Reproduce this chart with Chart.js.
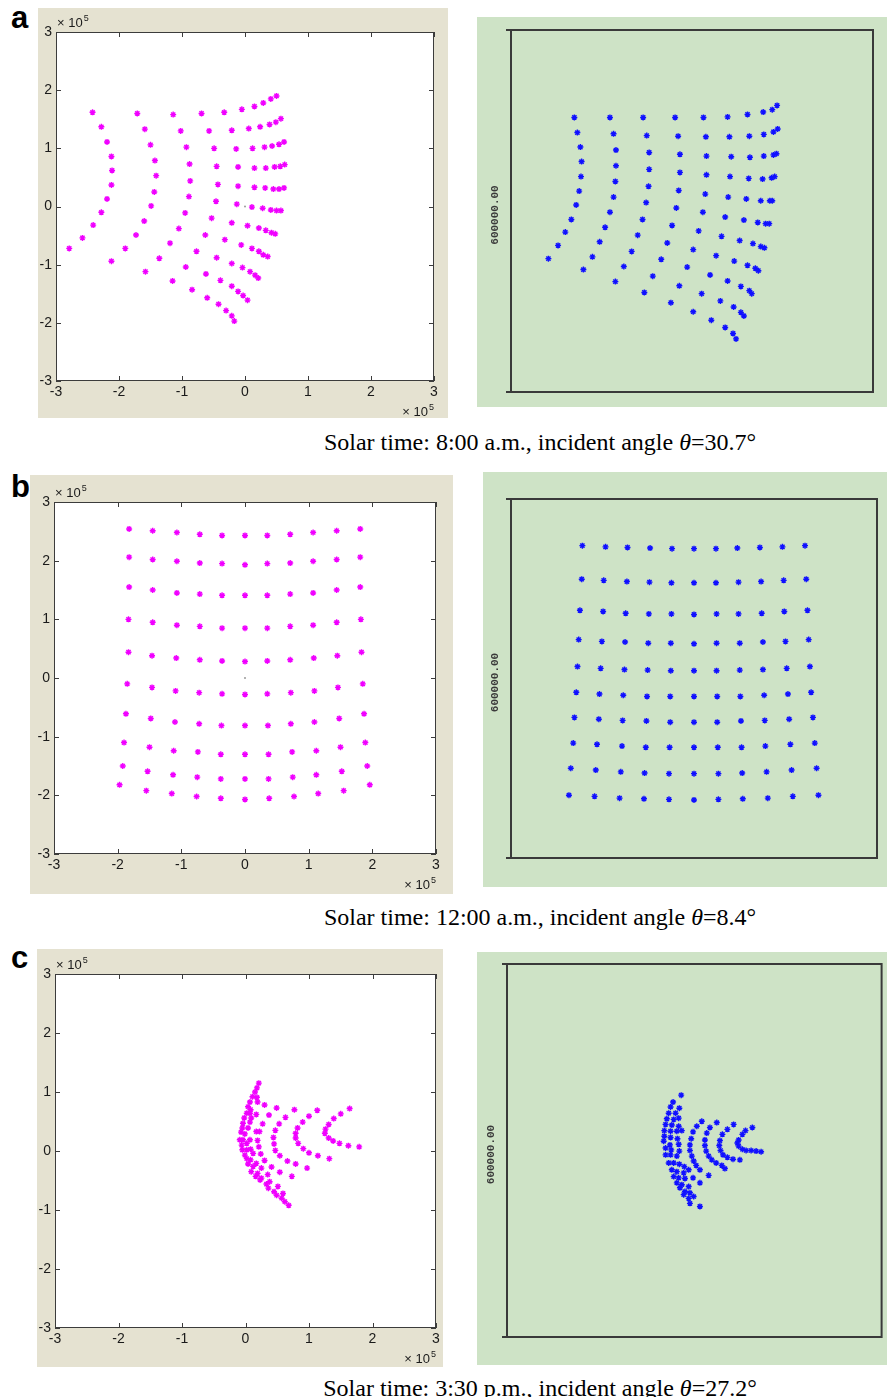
<!DOCTYPE html>
<html>
<head>
<meta charset="utf-8">
<script src="https://cdn.jsdelivr.net/npm/chart.js@4.4.1/dist/chart.umd.min.js"></script>
<style>
  html, body { margin: 0; padding: 0; background: #fff; }
  body { width: 887px; height: 1397px; position: relative; overflow: hidden; }
  canvas { position: absolute; }
  .letter { position: absolute; left: 11px; font: bold 31px "Liberation Sans", Arial, sans-serif; line-height: 1; color: #000; }
  .caption { position: absolute; left: 0; width: 1080px; text-align: center; white-space: nowrap;
             font: 24px "Liberation Serif", "Times New Roman", serif; line-height: 1; color: #000; }
</style>
</head>
<body>
<canvas id="ma"></canvas>
<canvas id="ta"></canvas>
<canvas id="mb"></canvas>
<canvas id="tb"></canvas>
<canvas id="mc"></canvas>
<canvas id="tc"></canvas>
<div id="labels"></div>

<script>
// ---- data (spot positions, units of 1e5) ----
const axisTicks = [-3, -2, -1, 0, 1, 2, 3];
const exponentLabel = '5';
const boxLabel = '600000.00';
const panelLetters = ['a', 'b', 'c'];
const captionTimes = ['8:00 a.m.', '12:00 a.m.', '3:30 p.m.'];
const incidentAngles = ['30.7', '8.4', '27.2'];

// (a) 8:00 a.m. – MATLAB result
const matlabA = [
  [-2.42,1.62],[-1.71,1.60],[-1.14,1.58],[-0.69,1.60],[-0.33,1.62],[-0.05,1.67],[0.15,1.72],[0.29,1.78],[0.41,1.85],[0.50,1.90],
  [-2.28,1.37],[-1.59,1.33],[-1.02,1.30],[-0.57,1.30],[-0.21,1.31],[0.06,1.34],[0.24,1.37],[0.39,1.41],[0.49,1.45],[0.57,1.51],
  [-2.19,1.11],[-1.50,1.06],[-0.93,1.02],[-0.49,1.00],[-0.14,0.99],[0.12,1.00],[0.31,1.02],[0.43,1.04],[0.54,1.07],[0.62,1.11],
  [-2.12,0.86],[-1.43,0.79],[-0.88,0.73],[-0.45,0.69],[-0.11,0.68],[0.15,0.66],[0.33,0.66],[0.47,0.68],[0.56,0.69],[0.63,0.72],
  [-2.11,0.62],[-1.41,0.53],[-0.87,0.44],[-0.43,0.38],[-0.11,0.35],[0.15,0.33],[0.32,0.32],[0.45,0.30],[0.54,0.30],[0.62,0.32],
  [-2.12,0.37],[-1.44,0.25],[-0.89,0.17],[-0.46,0.09],[-0.13,0.04],[0.11,-0.01],[0.28,-0.03],[0.41,-0.06],[0.50,-0.07],[0.57,-0.07],
  [-2.19,0.13],[-1.49,0.01],[-0.95,-0.11],[-0.53,-0.20],[-0.21,-0.28],[0.04,-0.33],[0.22,-0.37],[0.33,-0.41],[0.42,-0.45],[0.48,-0.47],
  [-2.28,-0.10],[-1.60,-0.25],[-1.05,-0.38],[-0.63,-0.49],[-0.32,-0.57],[-0.06,-0.66],[0.11,-0.72],[0.22,-0.77],[0.29,-0.83],[0.36,-0.86],
  [-2.41,-0.32],[-1.73,-0.49],[-1.19,-0.63],[-0.77,-0.77],[-0.45,-0.88],[-0.21,-0.98],[-0.04,-1.05],[0.08,-1.12],[0.16,-1.18],[0.21,-1.23],
  [-2.58,-0.54],[-1.90,-0.72],[-1.36,-0.89],[-0.94,-1.04],[-0.62,-1.16],[-0.39,-1.27],[-0.21,-1.37],[-0.11,-1.46],[-0.03,-1.53],[0.04,-1.61],
  [-2.79,-0.72],[-2.12,-0.94],[-1.58,-1.12],[-1.15,-1.28],[-0.84,-1.43],[-0.60,-1.57],[-0.42,-1.68],[-0.30,-1.79],[-0.21,-1.88],[-0.17,-1.97]
];
// (a) 8:00 a.m. – ray tracer result
const tracerA = [
  [-1.95,1.55],[-1.36,1.55],[-0.81,1.55],[-0.28,1.55],[0.19,1.55],[0.59,1.56],[0.92,1.60],[1.18,1.64],[1.33,1.68],[1.41,1.75],
  [-1.90,1.30],[-1.30,1.28],[-0.75,1.25],[-0.23,1.24],[0.23,1.23],[0.62,1.23],[0.95,1.24],[1.19,1.27],[1.35,1.31],[1.42,1.36],
  [-1.85,1.06],[-1.26,1.01],[-0.71,0.97],[-0.20,0.94],[0.24,0.91],[0.65,0.90],[0.96,0.89],[1.19,0.91],[1.35,0.93],[1.40,0.95],
  [-1.83,0.82],[-1.26,0.75],[-0.71,0.69],[-0.20,0.64],[0.24,0.60],[0.63,0.57],[0.94,0.54],[1.17,0.53],[1.32,0.55],[1.37,0.57],
  [-1.84,0.57],[-1.27,0.49],[-0.72,0.41],[-0.22,0.34],[0.22,0.28],[0.60,0.23],[0.90,0.20],[1.14,0.17],[1.29,0.17],[1.33,0.17],
  [-1.87,0.33],[-1.30,0.23],[-0.76,0.14],[-0.26,0.05],[0.18,-0.02],[0.55,-0.10],[0.86,-0.15],[1.09,-0.19],[1.22,-0.21],[1.28,-0.21],
  [-1.92,0.10],[-1.36,-0.02],[-0.82,-0.14],[-0.33,-0.24],[0.11,-0.33],[0.49,-0.42],[0.79,-0.49],[1.01,-0.54],[1.14,-0.59],[1.20,-0.61],
  [-2.00,-0.14],[-1.44,-0.27],[-0.90,-0.40],[-0.41,-0.53],[0.02,-0.64],[0.40,-0.74],[0.70,-0.83],[0.92,-0.90],[1.05,-0.95],[1.10,-0.99],
  [-2.10,-0.35],[-1.53,-0.51],[-1.00,-0.67],[-0.51,-0.80],[-0.08,-0.93],[0.30,-1.06],[0.59,-1.16],[0.81,-1.25],[0.95,-1.32],[0.99,-1.37],
  [-2.22,-0.57],[-1.65,-0.76],[-1.13,-0.92],[-0.65,-1.08],[-0.21,-1.24],[0.16,-1.37],[0.47,-1.49],[0.69,-1.59],[0.81,-1.68],[0.86,-1.74],
  [-2.38,-0.79],[-1.80,-0.97],[-1.27,-1.17],[-0.79,-1.35],[-0.35,-1.52],[0.02,-1.67],[0.32,-1.81],[0.55,-1.93],[0.68,-2.03],[0.73,-2.12]
];
// (b) 12:00 – MATLAB result
const matlabB = [
  [-1.82,2.54],[-1.45,2.51],[-1.07,2.48],[-0.71,2.45],[-0.36,2.43],[0.00,2.43],[0.35,2.43],[0.71,2.45],[1.07,2.48],[1.44,2.51],[1.81,2.54],
  [-1.82,2.06],[-1.45,2.02],[-1.07,1.99],[-0.71,1.96],[-0.36,1.95],[0.00,1.93],[0.35,1.95],[0.71,1.96],[1.07,1.99],[1.44,2.02],[1.81,2.06],
  [-1.82,1.55],[-1.45,1.50],[-1.07,1.45],[-0.71,1.43],[-0.36,1.41],[0.00,1.41],[0.35,1.41],[0.71,1.43],[1.07,1.45],[1.44,1.50],[1.81,1.55],
  [-1.83,1.00],[-1.45,0.95],[-1.07,0.90],[-0.71,0.88],[-0.36,0.85],[0.00,0.85],[0.35,0.85],[0.71,0.88],[1.07,0.90],[1.44,0.95],[1.82,1.00],
  [-1.83,0.44],[-1.46,0.38],[-1.08,0.34],[-0.71,0.31],[-0.36,0.29],[0.00,0.28],[0.35,0.29],[0.71,0.31],[1.08,0.34],[1.45,0.38],[1.83,0.44],
  [-1.85,-0.10],[-1.46,-0.16],[-1.09,-0.22],[-0.72,-0.25],[-0.36,-0.27],[0.00,-0.28],[0.35,-0.27],[0.72,-0.25],[1.09,-0.22],[1.46,-0.16],[1.85,-0.10],
  [-1.87,-0.61],[-1.48,-0.69],[-1.10,-0.75],[-0.72,-0.78],[-0.37,-0.81],[0.00,-0.81],[0.36,-0.81],[0.72,-0.78],[1.09,-0.75],[1.48,-0.69],[1.87,-0.61],
  [-1.90,-1.10],[-1.50,-1.18],[-1.12,-1.24],[-0.74,-1.26],[-0.38,-1.30],[0.00,-1.30],[0.37,-1.30],[0.74,-1.26],[1.12,-1.24],[1.50,-1.18],[1.89,-1.10],
  [-1.92,-1.50],[-1.53,-1.59],[-1.13,-1.65],[-0.75,-1.69],[-0.38,-1.72],[0.00,-1.72],[0.37,-1.72],[0.75,-1.69],[1.12,-1.65],[1.52,-1.59],[1.92,-1.50],
  [-1.97,-1.82],[-1.55,-1.92],[-1.15,-1.97],[-0.76,-2.02],[-0.38,-2.05],[0.00,-2.07],[0.38,-2.05],[0.77,-2.02],[1.15,-1.97],[1.55,-1.92],[1.96,-1.82]
];
// (b) 12:00 – ray tracer result
const tracerB = [
  [-1.83,2.22],[-1.45,2.20],[-1.09,2.19],[-0.72,2.18],[-0.36,2.17],[0.00,2.17],[0.36,2.17],[0.71,2.18],[1.08,2.19],[1.45,2.20],[1.82,2.22],
  [-1.84,1.66],[-1.48,1.64],[-1.10,1.62],[-0.73,1.61],[-0.37,1.60],[0.00,1.60],[0.36,1.60],[0.73,1.61],[1.10,1.62],[1.47,1.64],[1.84,1.66],
  [-1.87,1.14],[-1.49,1.12],[-1.12,1.09],[-0.74,1.08],[-0.37,1.08],[0.00,1.07],[0.37,1.08],[0.73,1.08],[1.11,1.09],[1.48,1.12],[1.86,1.14],
  [-1.89,0.65],[-1.51,0.62],[-1.13,0.61],[-0.75,0.59],[-0.38,0.59],[0.00,0.58],[0.37,0.59],[0.75,0.59],[1.13,0.61],[1.50,0.62],[1.88,0.65],
  [-1.91,0.20],[-1.53,0.17],[-1.14,0.15],[-0.76,0.14],[-0.38,0.13],[0.00,0.13],[0.37,0.13],[0.75,0.14],[1.13,0.15],[1.52,0.17],[1.90,0.20],
  [-1.93,-0.23],[-1.55,-0.26],[-1.16,-0.28],[-0.77,-0.30],[-0.39,-0.30],[0.00,-0.30],[0.38,-0.30],[0.76,-0.30],[1.15,-0.28],[1.54,-0.26],[1.92,-0.23],
  [-1.96,-0.65],[-1.56,-0.68],[-1.17,-0.70],[-0.78,-0.71],[-0.39,-0.73],[0.00,-0.73],[0.38,-0.73],[0.77,-0.71],[1.16,-0.70],[1.56,-0.68],[1.95,-0.65],
  [-1.98,-1.08],[-1.59,-1.10],[-1.18,-1.13],[-0.79,-1.15],[-0.40,-1.15],[0.00,-1.15],[0.39,-1.15],[0.78,-1.15],[1.17,-1.13],[1.58,-1.10],[1.98,-1.08],
  [-2.02,-1.50],[-1.61,-1.53],[-1.20,-1.56],[-0.81,-1.58],[-0.41,-1.59],[0.00,-1.59],[0.40,-1.59],[0.79,-1.58],[1.19,-1.56],[1.60,-1.53],[2.01,-1.50],
  [-2.05,-1.95],[-1.63,-1.97],[-1.22,-2.00],[-0.82,-2.01],[-0.41,-2.02],[0.00,-2.03],[0.40,-2.02],[0.80,-2.01],[1.21,-2.00],[1.62,-1.97],[2.04,-1.95]
];
// (c) 3:30 p.m. – MATLAB result
const matlabC = [
  [1.64,0.72],[1.50,0.63],[1.39,0.55],[1.31,0.45],[1.26,0.37],[1.25,0.30],[1.31,0.22],[1.38,0.17],[1.48,0.13],[1.62,0.09],[1.79,0.07],
  [1.13,0.69],[1.00,0.59],[0.90,0.49],[0.82,0.39],[0.79,0.30],[0.79,0.22],[0.83,0.13],[0.91,0.04],[1.00,-0.03],[1.14,-0.08],[1.32,-0.13],
  [0.77,0.70],[0.63,0.57],[0.53,0.46],[0.47,0.35],[0.44,0.23],[0.45,0.12],[0.47,0.01],[0.54,-0.08],[0.66,-0.17],[0.79,-0.22],[0.97,-0.29],
  [0.49,0.73],[0.37,0.61],[0.27,0.46],[0.22,0.33],[0.19,0.18],[0.21,0.07],[0.24,-0.05],[0.30,-0.16],[0.41,-0.27],[0.54,-0.36],[0.73,-0.43],
  [0.21,1.15],[0.18,1.07],[0.15,1.00],[0.11,0.92],[0.18,0.91],[0.07,0.83],[0.19,0.83],[0.04,0.75],[0.08,0.70],[0.30,0.78],
  [0.02,0.64],[0.07,0.64],[0.17,0.62],[-0.02,0.56],[0.09,0.56],[-0.04,0.47],[0.07,0.49],[-0.05,0.39],[0.04,0.39],[0.17,0.33],
  [-0.07,0.32],[-0.01,0.29],[-0.09,0.19],[-0.04,0.19],[0.07,0.19],[-0.06,0.10],[0.02,0.13],[-0.05,0.02],[0.02,0.02],[0.08,0.03],
  [-0.01,-0.07],[0.12,-0.04],[0.02,-0.13],[0.08,-0.15],[0.17,-0.21],[0.04,-0.22],[0.12,-0.26],[0.25,-0.29],[0.09,-0.35],[0.19,-0.38],
  [0.35,-0.40],[0.16,-0.43],[0.25,-0.46],[0.38,-0.52],[0.23,-0.49],[0.33,-0.56],[0.51,-0.60],[0.36,-0.63],[0.45,-0.69],[0.59,-0.72],
  [0.49,-0.75],[0.57,-0.80],[0.62,-0.86],[0.68,-0.92]
];
// (c) 3:30 p.m. – ray tracer result
const tracerC = [
  [0.93,0.37],[0.82,0.32],[0.77,0.26],[0.71,0.17],[0.69,0.12],[0.71,0.07],[0.77,0.02],[0.83,0.00],[0.91,0.00],[0.99,-0.01],[1.07,-0.02],
  [0.63,0.42],[0.53,0.34],[0.45,0.26],[0.41,0.16],[0.40,0.08],[0.42,0.00],[0.46,-0.07],[0.53,-0.11],[0.62,-0.14],[0.73,-0.15],
  [0.36,0.45],[0.25,0.37],[0.20,0.28],[0.17,0.17],[0.17,0.08],[0.19,-0.01],[0.23,-0.09],[0.28,-0.15],[0.35,-0.20],[0.44,-0.24],[0.49,-0.29],
  [0.12,0.47],[0.04,0.39],[-0.02,0.30],[-0.05,0.19],[-0.07,0.09],[-0.07,0.00],[-0.04,-0.09],[-0.01,-0.17],[0.03,-0.24],[0.09,-0.31],[0.23,-0.40],
  [-0.21,0.89],[-0.34,0.78],[-0.38,0.70],[-0.24,0.68],[-0.41,0.60],[-0.30,0.60],[-0.44,0.51],[-0.33,0.50],[-0.25,0.52],[-0.46,0.42],
  [-0.36,0.41],[-0.25,0.39],[-0.48,0.32],[-0.38,0.31],[-0.28,0.31],[-0.20,0.32],[-0.48,0.23],[-0.38,0.21],[-0.27,0.19],[-0.49,0.15],
  [-0.39,0.09],[-0.25,0.10],[-0.46,0.04],[-0.37,0.01],[-0.24,-0.01],[-0.46,-0.07],[-0.38,-0.07],[-0.28,-0.09],[-0.41,-0.20],[-0.33,-0.20],
  [-0.24,-0.22],[-0.16,-0.26],[-0.36,-0.31],[-0.28,-0.34],[-0.17,-0.36],[-0.09,-0.31],[-0.33,-0.42],[-0.25,-0.44],[-0.15,-0.45],[-0.02,-0.44],
  [-0.28,-0.52],[-0.20,-0.55],[-0.09,-0.58],[0.09,-0.52],[-0.23,-0.60],[-0.15,-0.66],[-0.07,-0.68],[-0.17,-0.71],[-0.09,-0.77],[-0.01,-0.74],
  [-0.07,-0.85],[0.09,-0.90]
];
// receiver centre marker
const centreSpot = [[0, 0]];

// ---- drawing ----
const FONT = '"Liberation Sans", Arial, sans-serif';
const toXY = arr => arr.map(([x, y]) => ({ x, y }));

function drawExponent(ctx, xPos, baseY, alignRight) {
  ctx.fillStyle = '#1a1a1a';
  ctx.textAlign = 'left';
  ctx.textBaseline = 'alphabetic';
  ctx.font = '13px ' + FONT;
  const main = '\u00d7 10';
  const wMain = ctx.measureText(main).width;
  ctx.font = '9px ' + FONT;
  const wSup = ctx.measureText(exponentLabel).width;
  const x0 = alignRight ? xPos - wMain - wSup - 1 : xPos;
  ctx.font = '13px ' + FONT;
  ctx.fillText(main, x0, baseY);
  ctx.font = '9px ' + FONT;
  ctx.fillText(exponentLabel, x0 + wMain + 1, baseY - 6);
}

const matlabFrame = {
  id: 'matlabFrame',
  beforeDraw(chart) {
    const { ctx, chartArea: a, width, height } = chart;
    ctx.save();
    ctx.fillStyle = '#e5e2d1';
    ctx.fillRect(0, 0, width, height);
    ctx.fillStyle = '#ffffff';
    ctx.fillRect(a.left, a.top, a.right - a.left, a.bottom - a.top);
    ctx.restore();
  },
  afterDraw(chart) {
    const { ctx, chartArea: a, scales: { x, y } } = chart;
    ctx.save();
    ctx.strokeStyle = '#3c3c3c';
    ctx.lineWidth = 1;
    ctx.strokeRect(a.left + 0.5, a.top + 0.5, a.right - a.left - 1, a.bottom - a.top - 1);
    ctx.beginPath();
    axisTicks.forEach(v => {
      const px = Math.round(x.getPixelForValue(v)) + 0.5;
      ctx.moveTo(px, a.bottom); ctx.lineTo(px, a.bottom - 5);
      ctx.moveTo(px, a.top); ctx.lineTo(px, a.top + 5);
      const py = Math.round(y.getPixelForValue(v)) + 0.5;
      ctx.moveTo(a.left, py); ctx.lineTo(a.left + 5, py);
      ctx.moveTo(a.right, py); ctx.lineTo(a.right - 5, py);
    });
    ctx.stroke();
    drawExponent(ctx, a.left + 1, a.top - 5, false);
    drawExponent(ctx, a.right, a.bottom + 35, true);
    ctx.restore();
  }
};

const tracerFrame = {
  id: 'tracerFrame',
  beforeDraw(chart) {
    const { ctx, width, height } = chart;
    ctx.save();
    ctx.fillStyle = '#cee3c6';
    ctx.fillRect(0, 0, width, height);
    ctx.restore();
  },
  afterDraw(chart) {
    const { ctx, chartArea: a } = chart;
    ctx.save();
    ctx.strokeStyle = '#3a3a3a';
    ctx.lineWidth = 2;
    ctx.strokeRect(a.left, a.top, a.right - a.left, a.bottom - a.top);
    ctx.beginPath();
    ctx.moveTo(a.left - 5, a.top); ctx.lineTo(a.left, a.top);
    ctx.moveTo(a.left - 5, a.bottom); ctx.lineTo(a.left, a.bottom);
    ctx.stroke();
    ctx.translate(a.left - 16, (a.top + a.bottom) / 2 + 4);
    ctx.rotate(-Math.PI / 2);
    ctx.fillStyle = '#3a3a3a';
    ctx.font = 'bold 11px "Liberation Mono", "DejaVu Sans Mono", monospace';
    ctx.textAlign = 'center';
    ctx.textBaseline = 'middle';
    ctx.fillText(boxLabel, 0, 0);
    ctx.restore();
  }
};

const panels = [
  { id: 'ma', kind: 'matlab', spots: matlabA, centre: true, rect: [38, 8, 410, 410],  pad: { left: 18, top: 24, right: 14, bottom: 37 } },
  { id: 'ta', kind: 'tracer', spots: tracerA,               rect: [477, 17, 410, 390], pad: { left: 34, top: 13, right: 14, bottom: 15 } },
  { id: 'mb', kind: 'matlab', spots: matlabB, centre: true, rect: [30, 475, 423, 419], pad: { left: 24, top: 27, right: 17, bottom: 40 } },
  { id: 'tb', kind: 'tracer', spots: tracerB,               rect: [483, 472, 404, 415], pad: { left: 28, top: 27, right: 10, bottom: 29 } },
  { id: 'mc', kind: 'matlab', spots: matlabC,               rect: [37, 949, 406, 418], pad: { left: 18, top: 25, right: 7, bottom: 39 } },
  { id: 'tc', kind: 'tracer', spots: tracerC,               rect: [477, 952, 410, 413], pad: { left: 30, top: 12, right: 3, bottom: 28 } }
];

panels.forEach(p => {
  const canvas = document.getElementById(p.id);
  const [left, top, w, h] = p.rect;
  canvas.width = w; canvas.height = h;
  canvas.style.left = left + 'px'; canvas.style.top = top + 'px';
  canvas.style.width = w + 'px'; canvas.style.height = h + 'px';

  const isMatlab = p.kind === 'matlab';
  const datasets = [{
    data: toXY(p.spots),
    pointStyle: 'star',
    pointRadius: 3,
    borderWidth: 1.4,
    borderColor: isMatlab ? '#f000ff' : '#1010ff',
    backgroundColor: isMatlab ? '#f000ff' : '#1010ff'
  }];
  if (p.centre) {
    datasets.push({ data: toXY(centreSpot), pointStyle: 'circle', pointRadius: 1, borderWidth: 0, backgroundColor: '#9a9a9a' });
  }

  const tickFont = { family: FONT, size: 14 };
  const scale = (axis) => ({
    type: 'linear',
    min: -3, max: 3,
    display: isMatlab,
    grid: { display: false, drawTicks: false },
    border: { display: false },
    ticks: { stepSize: 1, font: tickFont, color: '#1a1a1a', padding: axis === 'x' ? 3 : 4, autoSkip: false, maxRotation: 0 },
    afterFit: s => { if (!isMatlab) return; if (axis === 'x') s.height = p.pad.bottom; else s.width = p.pad.left; }
  });

  new Chart(canvas, {
    type: 'scatter',
    data: { datasets },
    options: {
      responsive: false,
      animation: false,
      devicePixelRatio: 1,
      layout: { padding: isMatlab
        ? { left: 0, bottom: 0, top: p.pad.top, right: p.pad.right }
        : p.pad },
      plugins: { legend: { display: false }, tooltip: { enabled: false } },
      scales: { x: scale('x'), y: scale('y') }
    },
    plugins: [isMatlab ? matlabFrame : tracerFrame]
  });
});

// letters and captions
const labelBox = document.getElementById('labels');
const letterTops = [2, 471, 942];
const captionTops = [430, 905, 1376];
panelLetters.forEach((l, i) => {
  const d = document.createElement('div');
  d.className = 'letter';
  d.style.top = letterTops[i] + 'px';
  d.textContent = l;
  labelBox.appendChild(d);

  const c = document.createElement('div');
  c.className = 'caption';
  c.style.top = captionTops[i] + 'px';
  c.innerHTML = 'Solar time: ' + captionTimes[i] + ', incident angle <i>\u03b8</i>=' + incidentAngles[i] + '\u00b0';
  labelBox.appendChild(c);
});
</script>
</body>
</html>
